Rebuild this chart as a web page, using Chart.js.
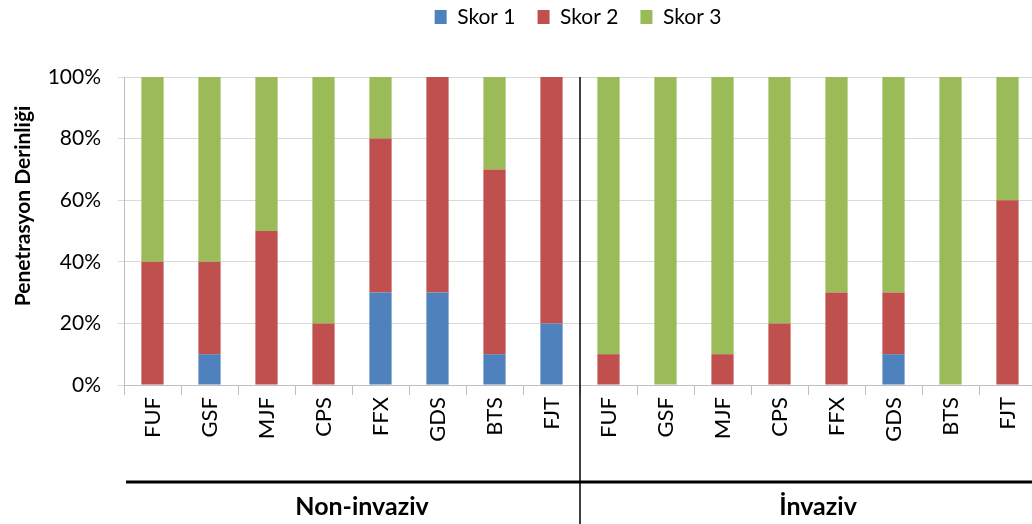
<!DOCTYPE html>
<html>
<head>
<meta charset="utf-8">
<script src="https://cdn.jsdelivr.net/npm/chart.js@4"></script>
<style>
	html, body { margin: 0; padding: 0; background: #ffffff; overflow: hidden; }
	#wrap { width: 1040px; height: 524px; }
</style>
</head>
<body>
<div id="wrap"><canvas id="chart" width="1040" height="524"></canvas></div>
<script>
// categories, two groups of eight
const categories = ["FUF", "GSF", "MJF", "CPS", "FFX", "GDS", "BTS", "FJT",
	"FUF", "GSF", "MJF", "CPS", "FFX", "GDS", "BTS", "FJT"];
const groups = ["Non-invaziv", "\u0130nvaziv"];
const groupSize = 8;

// percentages per score
const skor1 = [0, 10, 0, 0, 30, 30, 10, 20, 0, 0, 0, 0, 0, 10, 0, 0];
const skor2 = [40, 30, 50, 20, 50, 70, 60, 80, 10, 0, 10, 20, 30, 20, 0, 60];
const skor3 = [60, 60, 50, 80, 20, 0, 30, 0, 90, 100, 90, 80, 70, 70, 100, 40];

const yTicks = [0, 20, 40, 60, 80, 100];
const yTitle = "Penetrasyon Derinli\u011fi";

const FONT = "Lato, 'Open Sans', sans-serif";

// moves legend to where the original had it
const legendPlacer =
{
	id: "legendPlacer",
	afterLayout(chart)
	{
		const lg = chart.legend;
		const lab = lg.options.labels;
		const itemH = Math.max(lab.boxHeight, lab.font.size);
		const dy = 17 - (lg.top + lab.padding + itemH / 2);
		lg.top += dy;
		lg.bottom += dy;
		lg.left += 60;
		lg.right += 60;
	}
};

// y title, group separator, group lines and group names
const groupAxis =
{
	id: "groupAxis",
	afterDraw(chart)
	{
		const ctx = chart.ctx;
		const x = chart.scales.x;
		const area = chart.chartArea;
		const sepX = (x.getPixelForValue(groupSize - 1) + x.getPixelForValue(groupSize)) / 2;
		ctx.save();

		ctx.fillStyle = "#000000";
		ctx.font = "bold 21px " + FONT;
		ctx.textAlign = "center";
		ctx.textBaseline = "middle";
		ctx.translate(23, 206);
		ctx.rotate(-Math.PI / 2);
		ctx.fillText(yTitle, 0, 0);
		ctx.setTransform(1, 0, 0, 1, 0, 0);

		ctx.strokeStyle = "#000000";
		ctx.lineWidth = 1.5;
		ctx.beginPath();
		ctx.moveTo(sepX, area.top);
		ctx.lineTo(sepX, chart.height);
		ctx.stroke();
		ctx.lineWidth = 3;
		ctx.beginPath();
		ctx.moveTo(area.left + 2, 482);
		ctx.lineTo(chart.width, 482);
		ctx.stroke();

		ctx.font = "bold 25px " + FONT;
		for(let g = 0; g < groups.length; g++)
		{
			const first = x.getPixelForValue(g * groupSize);
			const last = x.getPixelForValue(g * groupSize + groupSize - 1);
			ctx.fillText(groups[g], (first + last) / 2 + 10, 507);
		}
		ctx.restore();
	}
};

new Chart(document.getElementById("chart").getContext("2d"),
{
	type: "bar",
	plugins: [legendPlacer, groupAxis],
	data:
	{
		labels: categories,
		datasets:
		[
			{ label: "Skor 1", data: skor1, backgroundColor: "#4F81BD" },
			{ label: "Skor 2", data: skor2, backgroundColor: "#C0504D" },
			{ label: "Skor 3", data: skor3, backgroundColor: "#9BBB59" }
		]
	},
	options:
	{
		responsive: false,
		animation: false,
		devicePixelRatio: 1,
		datasets: { bar: { barPercentage: 0.39, categoryPercentage: 1.0, borderWidth: 0 } },
		layout: { padding: { top: 24, right: 4, bottom: 0, left: 0 } },
		plugins:
		{
			legend:
			{
				position: "top",
				labels:
				{
					font: { family: FONT, size: 21 },
					color: "#000000",
					boxWidth: 12,
					boxHeight: 14,
					padding: 22
				}
			},
			tooltip: { enabled: false }
		},
		scales:
		{
			x:
			{
				stacked: true,
				afterFit: (scale) => { scale.height = 139; },
				grid: { drawOnChartArea: false, drawTicks: true, tickLength: 10, color: "#bfbfbf" },
				border: { color: "#bfbfbf" },
				ticks:
				{
					autoSkip: false,
					minRotation: 90,
					maxRotation: 90,
					padding: 2,
					color: "#000000",
					font: { family: FONT, size: 22 }
				}
			},
			y:
			{
				stacked: true,
				min: 0,
				max: 100,
				afterFit: (scale) => { scale.width = 124; },
				afterBuildTicks: (scale) => { scale.ticks = yTicks.map(v => ({ value: v })); },
				grid: { color: "#d9d9d9", tickLength: 6 },
				border: { color: "#bfbfbf" },
				ticks:
				{
					padding: 17,
					color: "#000000",
					font: { family: FONT, size: 21 },
					callback: (v) => v + "%"
				}
			}
		}
	}
});
</script>
</body>
</html>
